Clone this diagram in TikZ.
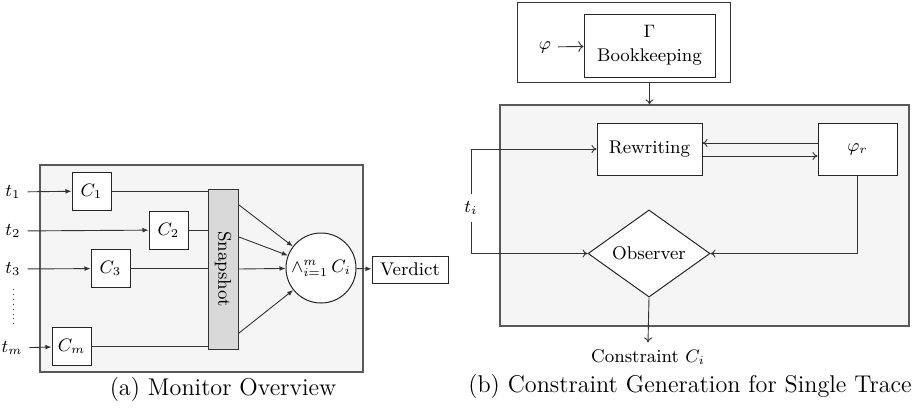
\documentclass[tikz,border=0pt]{standalone}
\usetikzlibrary{arrows.meta,shapes.geometric,calc}
\begin{document}
\begin{tikzpicture}[x=0.5pt,y=-0.5pt,
  every node/.style={font=\fontsize{9.2}{11}\selectfont},
  frame/.style={draw=black!65, line width=0.6pt, fill=black!4, inner sep=0pt},
  box/.style={draw=black!85, line width=0.5pt, fill=white, inner sep=0pt},
  ln/.style={draw=black!80, line width=0.45pt},
  arr/.style={ln, -{Latex[length=3pt,width=2.4pt]}},
  arrb/.style={ln, -{To[length=2.5pt,width=4pt]}},
  captext/.style={font=\fontsize{12.1}{14}\selectfont}]
\useasboundingbox (0,0) rectangle (919,414);

% ---------------- (a) ----------------
\node[frame, minimum width=161.5pt, minimum height=103.5pt] (fa) at (201.5,268.5) {};
\node[box, minimum width=19.5pt, minimum height=19pt] (c1) at (91.5,191) {$C_1$};
\node[box, minimum width=19.5pt, minimum height=19pt] (c2) at (168.5,230) {$C_2$};
\node[box, minimum width=19.5pt, minimum height=19pt] (c3) at (110.5,268.5) {$C_3$};
\node[box, minimum width=19.5pt, minimum height=19pt] (cm) at (71.5,346.5) {$C_m$};
\node (t1) at (13,192) {$t_1$};
\node (t2) at (13,231) {$t_2$};
\node (t3) at (13,269) {$t_3$};
\node (tm) at (12,348) {$t_m$};
\coordinate (d1) at (13,289);
\coordinate (d2) at (13,324);
\draw[ln, dotted] (d1) -- (d2);
\node[draw=black!80, line width=0.5pt, fill=black!15, minimum width=15pt, minimum height=80pt, inner sep=0pt] (snap) at (223,269) {};
\node[rotate=-90] (snaptxt) at (snap.center) {Snapshot};
\draw[arr] (t1) -- (c1);
\draw[arr] (t2) -- (c2);
\draw[arr] (t3) -- (c3);
\draw[arr] (tm) -- (cm);
\draw[ln] (c1.east) -- (c1.east -| snap.west);
\draw[ln] (c2.east) -- (c2.east -| snap.west);
\draw[ln] (c3.east) -- (c3.east -| snap.west);
\draw[ln] (cm.east) -- (cm.east -| snap.west);
\node[circle, box, minimum size=35pt] (and) at (321,268) {$\wedge_{i=1}^{m}\, C_i$};
\draw[arr] ($(snap.north east)!0.1!(snap.south east)$) -- (and);
\draw[arr] ($(snap.north east)!0.3!(snap.south east)$) -- (and);
\draw[arr] ($(snap.north east)!0.5!(snap.south east)$) -- (and);
\draw[arr] ($(snap.north east)!0.9!(snap.south east)$) -- (and);
\node[box, minimum width=38pt, minimum height=13.5pt] (verdict) at (410,269.5) {Verdict};
\draw[arr] (and) -- (verdict);
\node[captext] (capa) at (223,389) {(a) Monitor Overview};

% ---------------- (b) ----------------
\node[draw=black!80, line width=0.5pt, minimum width=106.5pt, minimum height=40pt, inner sep=0pt] (top) at (623.5,42) {};
\node[box, minimum width=65.5pt, minimum height=31.5pt, align=center] (book) at (649.5,45.5) {$\Gamma$\\[1pt]Bookkeeping};
\node (phi) at (545,47) {$\varphi$};
\draw[ln, ->] (phi) -- (book);
\node[frame, minimum width=204.5pt, minimum height=110.5pt] (big) at (704.5,215.5) {};
\draw[arrb] (book.south |- top.south) -- (book.south |- big.north);
\node[box, minimum width=52.5pt, minimum height=26pt] (rw) at (649.5,149) {Rewriting};
\node[box, minimum width=39.5pt, minimum height=26pt] (phir) at (857.5,149) {$\varphi_r$};
\draw[arrb] (phir.west |- 0,143) -- (rw.east |- 0,143);
\draw[arrb] (rw.east |- 0,156) -- (phir.west |- 0,156);
\node[diamond, box, minimum width=61pt, minimum height=40.5pt] (obs) at (649,253.5) {Observer};
\node (ti) at (471,208) {$t_i$};
\draw[arrb] (ti.north) |- (rw.west);
\draw[arrb] (ti.south) |- (obs.west);
\draw[arrb] (phir.south) |- (obs.east);
\node (cons) at (648,357) {Constraint $C_i$};
\draw[arrb] (obs.south) -- (cons.north);
\node[captext] (capb) at (690,386) {(b) Constraint Generation for Single Trace};
\end{tikzpicture}
\end{document}
